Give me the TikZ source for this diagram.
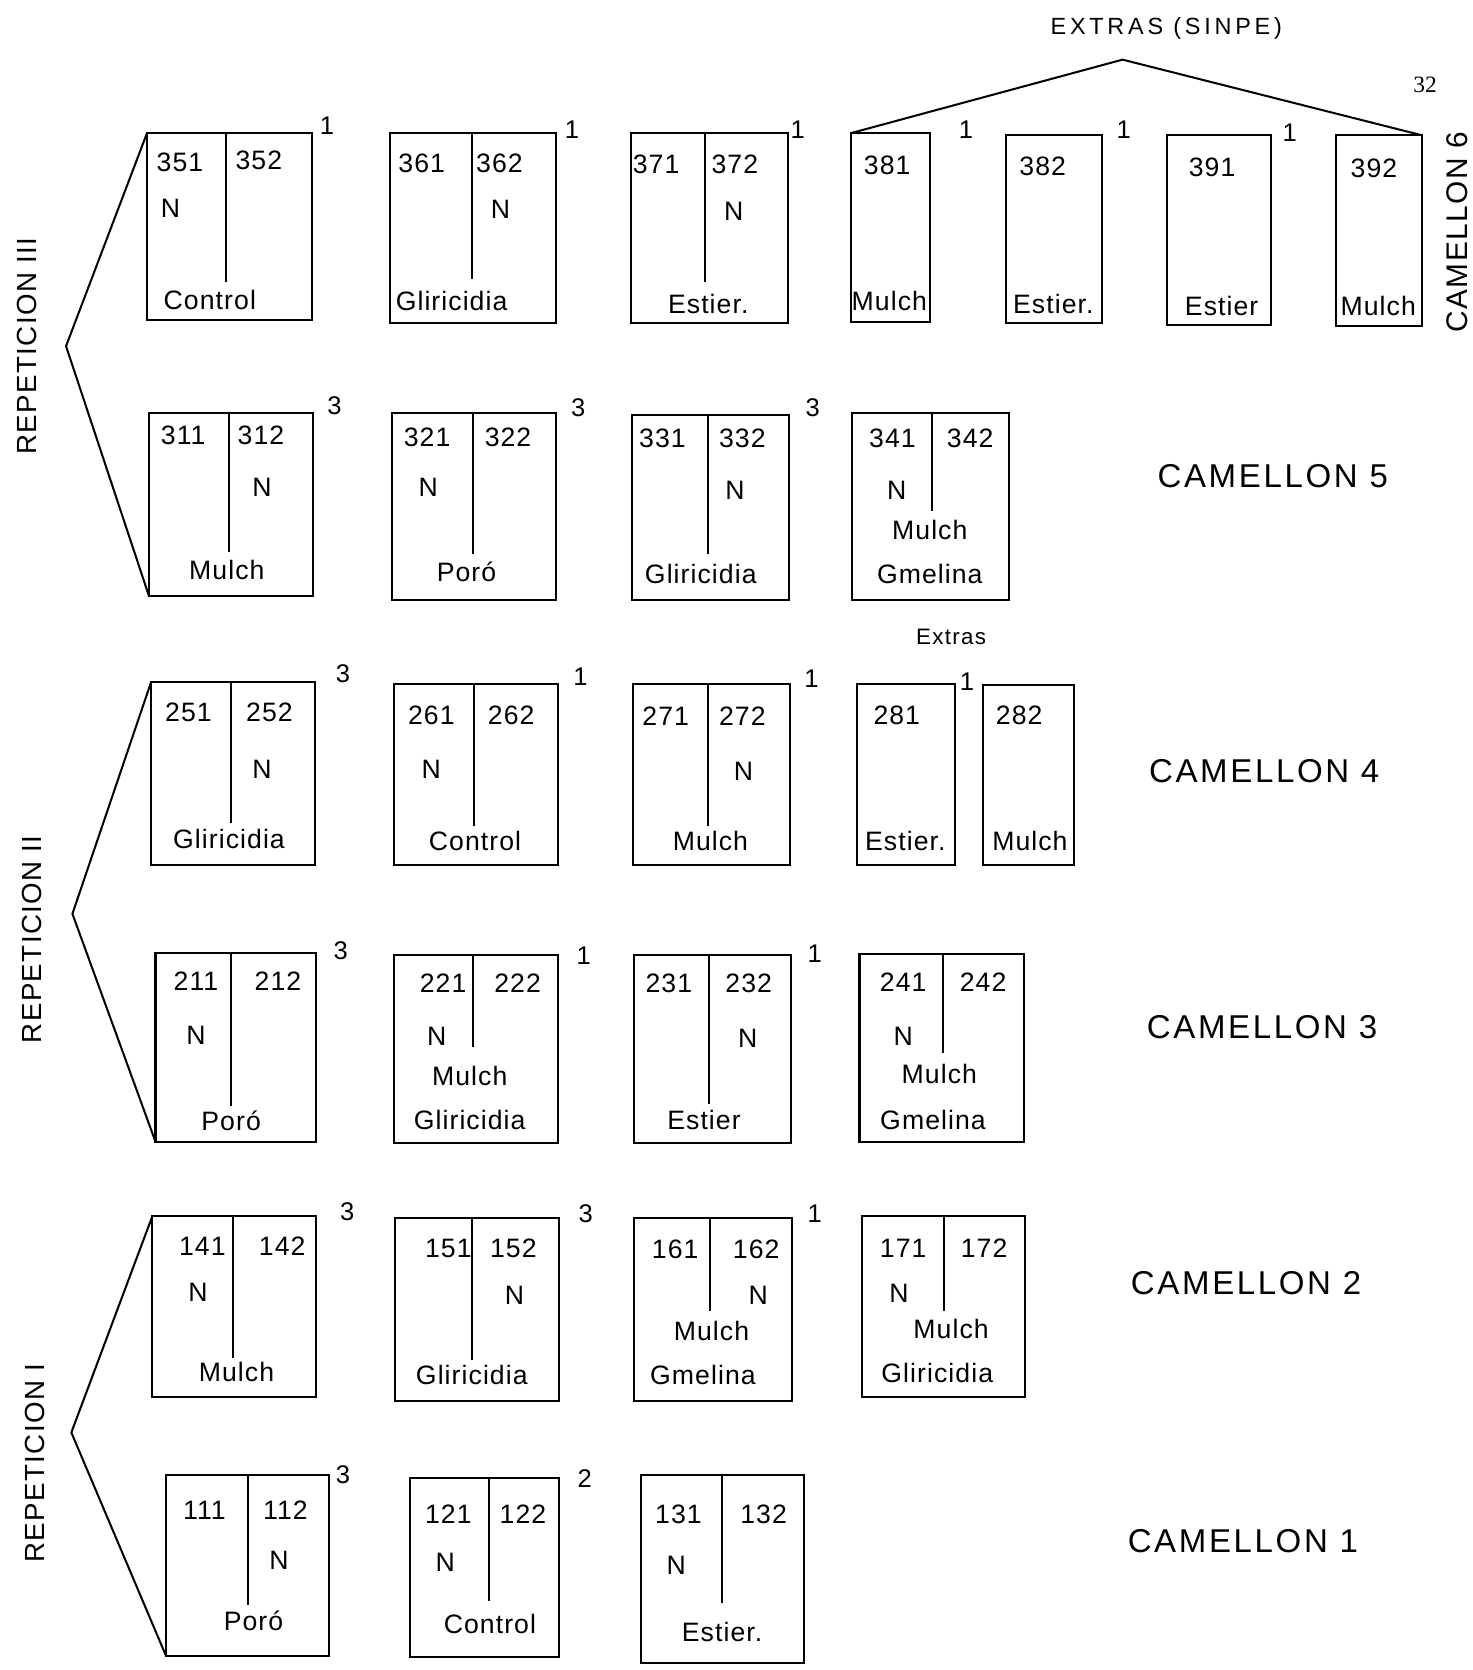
\documentclass[tikz,border=0pt]{standalone}
\usepackage{fontspec}
\setmainfont{Liberation Sans}
\newfontfamily\serifnum{Liberation Serif}
\newcommand\plotbox[5]{\node[plot, minimum width={#4-#2}, minimum height={#5-#3}] (#1) at ({(#2+#4)/2},{(#3+#5)/2}) {};}
\newcommand\divl[3]{\draw[ln] (#1,#2) -- (#1,#3);}
\newcommand\tx[4]{\node[txt] (#1) at (#2,#3) {#4};}
\newcommand\tg[4]{\node[tagnum] (#1) at (#2,#3) {#4};}
\begin{document}
\begin{tikzpicture}[x=1pt,y=-1pt,
  plot/.style={draw, line width=1.9pt, inner sep=0pt, outer sep=0pt, rectangle},
  ln/.style={line width=1.9pt},
  txt/.style={font=\fontsize{25}{27}\selectfont\addfontfeature{LetterSpace=4}, inner sep=0pt},
  tagnum/.style={font=\fontsize{24}{26}\selectfont, inner sep=0pt},
  cam/.style={font=\fontsize{31}{33}\selectfont\addfontfeature{LetterSpace=8}, inner sep=0pt},
  rep/.style={font=\fontsize{26}{28}\selectfont\addfontfeature{LetterSpace=5}, inner sep=0pt, rotate=90}]
\useasboundingbox (0,0) rectangle (1383,1568);

% ---------------- CAMELLON 6
\plotbox{p35}{138}{125}{293}{300}\divl{212}{125}{265}
\tx{t351}{169}{152}{351}\tx{t352}{243}{151}{352}\tx{n35}{160}{196}{N}\tx{l35}{197}{282}{Control}
\plotbox{p36}{366}{125}{522}{303}\divl{443}{125}{262}
\tx{t361}{396}{153}{361}\tx{t362}{469}{153}{362}\tx{n36}{470}{197}{N}\tx{l36}{424}{283}{Gliricidia}
\plotbox{p37}{592}{125}{740}{303}\divl{662}{125}{265}
\tx{t371}{616}{154}{371}\tx{t372}{690}{154}{372}\tx{n37}{689}{198}{N}\tx{l37}{665}{285}{Estier.}
\plotbox{p381}{799}{125}{873}{302}
\tx{t381}{833}{155}{381}\tx{l381}{835}{283}{Mulch}
\plotbox{p382}{945}{127}{1035}{303}
\tx{t382}{979}{156}{382}\tx{l382}{989}{285}{Estier.}
\plotbox{p391}{1096}{127}{1193}{305}
\tx{t391}{1138}{157}{391}\tx{l391}{1147}{287}{Estier}
\plotbox{p392}{1254}{127}{1335}{306}
\tx{t392}{1290}{158}{392}\tx{l392}{1294}{287}{Mulch}
\tg{g35}{307}{118}{1}\tg{g36}{537}{122}{1}\tg{g37}{749}{122}{1}
\tg{g381}{907}{122}{1}\tg{g382}{1055}{122}{1}\tg{g391}{1211}{125}{1}

\coordinate (apex) at (1054,56);
\draw[ln] (p381.north west) -- (apex) -- (p392.north east);
\node[font=\fontsize{22}{24}\selectfont\addfontfeature{LetterSpace=16}, inner sep=0pt] (extras6) at (1095,27) {EXTRAS (SINPE)};
\node[font=\fontsize{22}{24}\selectfont\serifnum, inner sep=0pt] (pagenum) at (1338,80) {32};
\node[font=\fontsize{28}{30}\selectfont\addfontfeature{LetterSpace=5}, inner sep=0pt, rotate=90] (cam6) at (1368,218) {CAMELLON 6};

% ---------------- CAMELLON 5
\plotbox{p31}{140}{388}{294}{560}\divl{215}{388}{518}
\tx{t311}{172}{409}{311}\tx{t312}{245}{409}{312}\tx{n31}{246}{458}{N}\tx{l31}{213}{535}{Mulch}
\plotbox{p32}{368}{388}{522}{563}\divl{444}{388}{520}
\tx{t321}{401}{411}{321}\tx{t322}{477}{411}{322}\tx{n32}{402}{458}{N}\tx{l32}{438}{537}{Poró}
\plotbox{p33}{593}{390}{741}{563}\divl{665}{390}{520}
\tx{t331}{622}{412}{331}\tx{t332}{697}{412}{332}\tx{n33}{690}{460}{N}\tx{l33}{658}{539}{Gliricidia}
\plotbox{p34}{800}{388}{947}{563}\divl{875}{388}{480}
\tx{t341}{838}{412}{341}\tx{t342}{911}{412}{342}\tx{n34}{842}{460}{N}\tx{m34}{873}{498}{Mulch}\tx{l34}{873}{539}{Gmelina}
\tg{g31}{314}{381}{3}\tg{g32}{543}{383}{3}\tg{g33}{763}{383}{3}
\node[cam] (cam5) at (1195,447) {CAMELLON 5};

\coordinate (rep3) at (62,325);
\draw[ln] (p35.north west) -- (rep3) -- (p31.south west);
\node[rep] (rep3t) at (25,325) {REPETICION III};

\node[font=\fontsize{21}{23}\selectfont\addfontfeature{LetterSpace=6}, inner sep=0pt] (extras4) at (893,598) {Extras};

% ---------------- CAMELLON 4
\plotbox{p25}{142}{640}{296}{812}\divl{217}{640}{773}
\tx{t251}{177}{669}{251}\tx{t252}{253}{669}{252}\tx{n25}{246}{722}{N}\tx{l25}{215}{788}{Gliricidia}
\plotbox{p26}{370}{642}{524}{812}\divl{445}{642}{776}
\tx{t261}{405}{672}{261}\tx{t262}{480}{672}{262}\tx{n26}{405}{722}{N}\tx{l26}{446}{790}{Control}
\plotbox{p27}{594}{642}{742}{812}\divl{665}{642}{776}
\tx{t271}{625}{672}{271}\tx{t272}{697}{672}{272}\tx{n27}{698}{724}{N}\tx{l27}{667}{790}{Mulch}
\plotbox{p281}{805}{642}{897}{812}
\tx{t281}{842}{672}{281}\tx{l281}{850}{790}{Estier.}
\plotbox{p282}{923}{643}{1008}{812}
\tx{t282}{957}{672}{282}\tx{l282}{967}{790}{Mulch}
\tg{g25}{322}{633}{3}\tg{g26}{545}{635}{1}\tg{g27}{762}{637}{1}\tg{g281}{908}{640}{1}
\node[cam] (cam4) at (1187,724) {CAMELLON 4};

% ---------------- CAMELLON 3
\plotbox{p21}{146}{895}{297}{1072}\divl{217}{895}{1038}
\tx{t211}{184}{921}{211}\tx{t212}{261}{921}{212}\tx{n21}{184}{972}{N}\tx{l21}{217}{1052}{Poró}
\plotbox{p22}{370}{897}{524}{1073}\divl{444}{897}{983}
\tx{t221}{416}{923}{221}\tx{t222}{486}{923}{222}\tx{n22}{410}{973}{N}\tx{m22}{441}{1010}{Mulch}\tx{l22}{441}{1052}{Gliricidia}
\plotbox{p23}{595}{897}{743}{1073}\divl{666}{897}{1037}
\tx{t231}{628}{923}{231}\tx{t232}{703}{923}{232}\tx{n23}{702}{975}{N}\tx{l23}{661}{1052}{Estier}
\plotbox{p24}{807}{896}{961}{1072}\divl{885}{896}{989}
\tx{t241}{848}{922}{241}\tx{t242}{923}{922}{242}\tx{n24}{848}{973}{N}\tx{m24}{882}{1008}{Mulch}\tx{l24}{876}{1052}{Gmelina}
\tg{g21}{320}{893}{3}\tg{g22}{548}{897}{1}\tg{g23}{765}{895}{1}
\node[cam] (cam3) at (1185,964) {CAMELLON 3};

\coordinate (rep2) at (68,858);
\draw[ln] (p25.north west) -- (rep2) -- (p21.south west);
\node[rep] (rep2t) at (30,882) {REPETICION II};

% ---------------- CAMELLON 2
\plotbox{p14}{143}{1142}{297}{1312}\divl{219}{1142}{1275}
\tx{t141}{190}{1170}{141}\tx{t142}{265}{1170}{142}\tx{n14}{186}{1213}{N}\tx{l14}{222}{1288}{Mulch}
\plotbox{p15}{371}{1144}{525}{1315}\divl{443}{1144}{1277}
\tx{t151}{421}{1172}{151}\tx{t152}{482}{1172}{152}\tx{n15}{483}{1216}{N}\tx{l15}{443}{1291}{Gliricidia}
\plotbox{p16}{595}{1144}{744}{1315}\divl{667}{1144}{1231}
\tx{t161}{634}{1173}{161}\tx{t162}{710}{1173}{162}\tx{n16}{712}{1216}{N}\tx{m16}{668}{1250}{Mulch}\tx{l16}{660}{1291}{Gmelina}
\plotbox{p17}{809}{1142}{962}{1312}\divl{886}{1142}{1231}
\tx{t171}{848}{1172}{171}\tx{t172}{924}{1172}{172}\tx{n17}{844}{1214}{N}\tx{m17}{893}{1248}{Mulch}\tx{l17}{880}{1289}{Gliricidia}
\tg{g14}{326}{1138}{3}\tg{g15}{550}{1140}{3}\tg{g16}{765}{1140}{1}
\node[cam] (cam2) at (1170,1205) {CAMELLON 2};

% ---------------- CAMELLON 1
\plotbox{p11}{156}{1385}{309}{1555}\divl{233}{1385}{1507}
\tx{t111}{192}{1418}{111}\tx{t112}{268}{1418}{112}\tx{n11}{262}{1465}{N}\tx{l11}{238}{1522}{Poró}
\plotbox{p12}{385}{1388}{525}{1556}\divl{459}{1388}{1503}
\tx{t121}{421}{1422}{121}\tx{t122}{491}{1422}{122}\tx{n12}{418}{1467}{N}\tx{l12}{460}{1525}{Control}
\plotbox{p13}{602}{1385}{755}{1561}\divl{678}{1385}{1505}
\tx{t131}{637}{1422}{131}\tx{t132}{717}{1422}{132}\tx{n13}{635}{1470}{N}\tx{l13}{678}{1532}{Estier.}
\tg{g11}{322}{1385}{3}\tg{g12}{549}{1388}{2}
\node[cam] (cam1) at (1167,1447) {CAMELLON 1};

\coordinate (rep1) at (67,1345);
\draw[ln] (p14.north west) -- (rep1) -- (p11.south west);
\node[rep] (rep1t) at (33,1374) {REPETICION I};
\end{tikzpicture}
\end{document}
